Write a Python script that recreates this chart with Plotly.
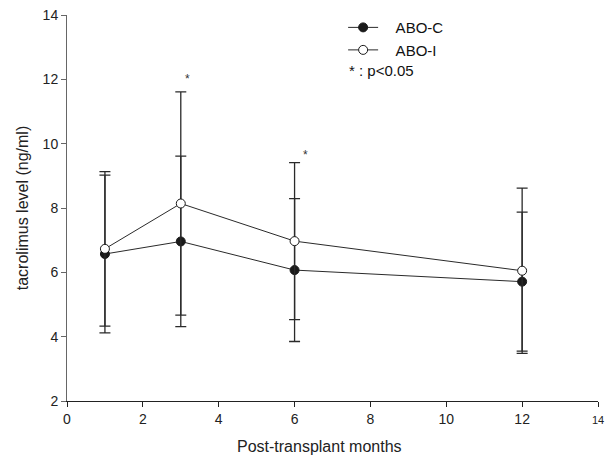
import plotly.graph_objects as go

months = [1, 3, 6, 12]
abo_c_mean = [6.57, 6.96, 6.07, 5.71]
abo_c_sd = [2.45, 2.65, 2.22, 2.16]
abo_i_mean = [6.73, 8.14, 6.97, 6.05]
abo_i_sd = [2.40, 3.47, 2.44, 2.57]
sig_x = [3.17, 6.3]
sig_y = [12.0, 9.65]
x_ticks = [0, 2, 4, 6, 8, 10, 12, 14]
y_ticks = [2, 4, 6, 8, 10, 12, 14]

FONT = "Liberation Sans, Arial, sans-serif"
LINE = "#2a2a2a"
NB = "\u00a0\u00a0\u00a0"

fig = go.Figure()
fig.add_trace(go.Scatter(
    x=months, y=abo_c_mean, mode="lines+markers", name=NB + "ABO-C",
    line=dict(color=LINE, width=1),
    marker=dict(symbol="circle", size=9, color="#1a1a1a", line=dict(color="#1a1a1a", width=1)),
    error_y=dict(type="data", array=abo_c_sd, color=LINE, thickness=1.3, width=5.5),
))
fig.add_trace(go.Scatter(
    x=months, y=abo_i_mean, mode="lines+markers", name=NB + "ABO-I",
    line=dict(color=LINE, width=1),
    marker=dict(symbol="circle", size=9, color="white", line=dict(color="#1a1a1a", width=1)),
    error_y=dict(type="data", array=abo_i_sd, color=LINE, thickness=1.3, width=5.5),
))

for sx, sy in zip(sig_x, sig_y):
    fig.add_annotation(x=sx, y=sy, text="*", showarrow=False,
                       font=dict(family=FONT, size=12, color="#333"))

fig.add_annotation(xref="paper", yref="paper", x=0.527, y=0.855, xanchor="left", yanchor="middle",
                   text="* : p<0.05", showarrow=False, font=dict(family=FONT, size=15, color="#111"))

fig.add_annotation(xref="paper", yref="paper", x=0.475, y=-0.118, xanchor="center", yanchor="middle",
                   text="Post-transplant months", showarrow=False,
                   font=dict(family=FONT, size=16, color="#222"))

x_text = [str(v) for v in x_ticks[:-1]] + ["<span style='font-size:11px'>14</span>"]

fig.update_layout(
    width=611, height=459,
    margin=dict(l=67, r=7, t=15, b=58),
    paper_bgcolor="white", plot_bgcolor="white",
    font=dict(family=FONT, size=14, color="#222"),
    showlegend=True,
    legend=dict(x=0.52, y=1.01, xanchor="left", yanchor="top", bgcolor="rgba(0,0,0,0)",
                font=dict(family=FONT, size=15, color="#111"), tracegroupgap=0),
    xaxis=dict(range=[0, 14], tickvals=x_ticks, ticktext=x_text, showgrid=False, zeroline=False,
               showline=True, linecolor="#222", linewidth=1, ticks="outside", ticklen=5,
               tickcolor="#222", tickfont=dict(family=FONT, size=14, color="#222")),
    yaxis=dict(range=[2, 14], tickvals=y_ticks, showgrid=False, zeroline=False,
               showline=True, linecolor="#666", linewidth=1, ticks="outside", ticklen=5,
               tickcolor="#666", title=dict(text="tacrolimus level (ng/ml)", standoff=10,
                                              font=dict(family=FONT, size=16, color="#222")),
               tickfont=dict(family=FONT, size=14, color="#222")),
)

fig.write_html("out.html")
